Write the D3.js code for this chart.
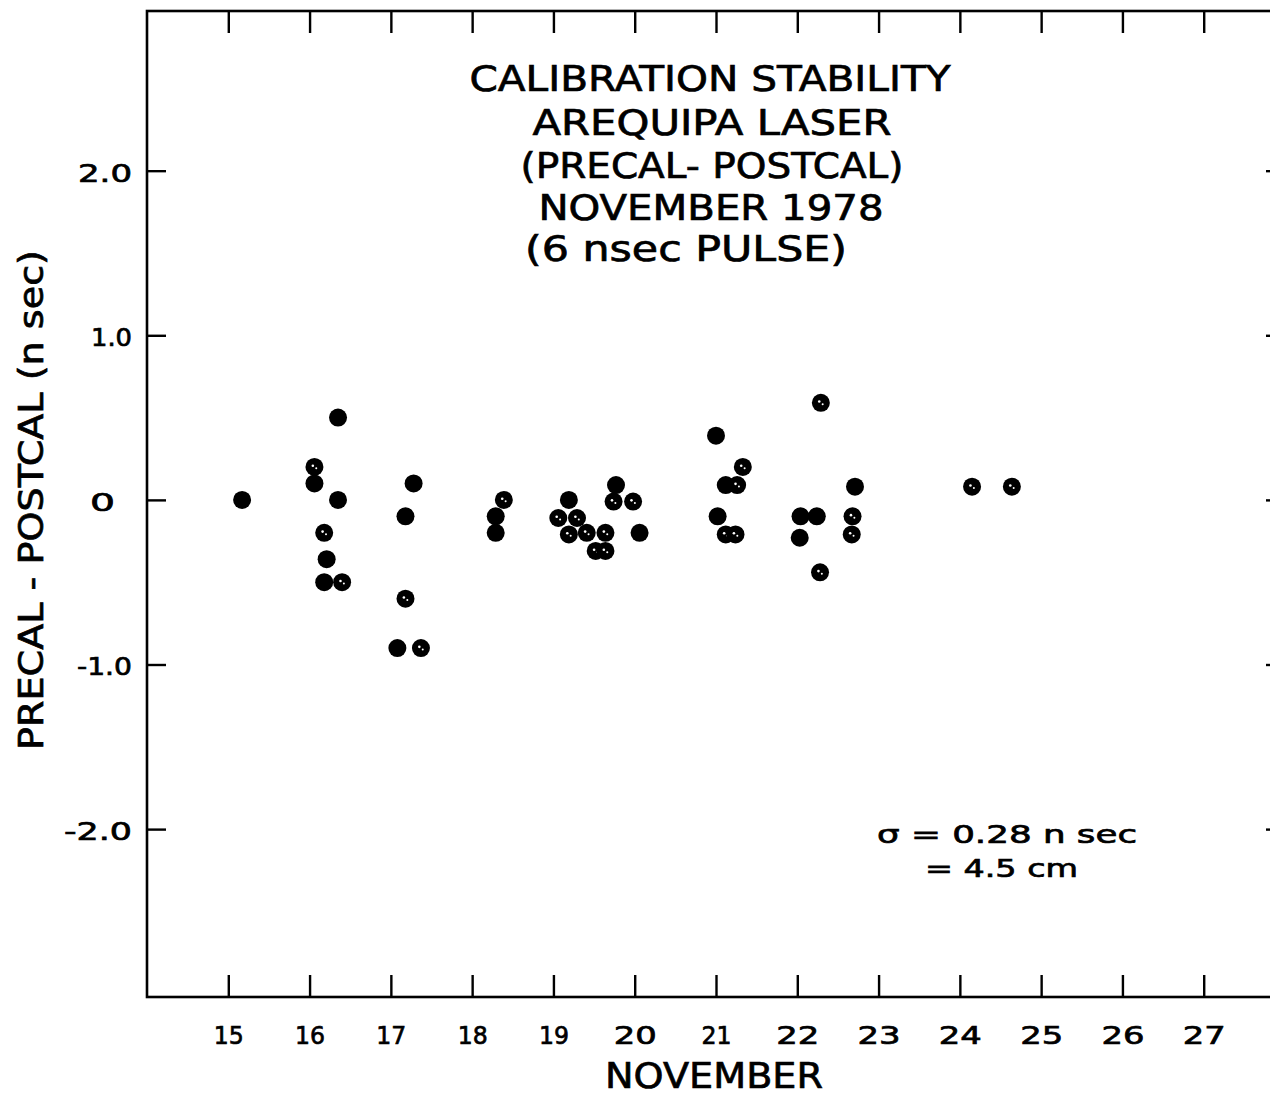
<!DOCTYPE html>
<html>
<head>
<meta charset="utf-8">
<script src="https://cdn.jsdelivr.net/npm/d3@7"></script>
<style>
  html, body { margin: 0; padding: 0; background: #fff; }
  svg { display: block; }
  text { font-family: "DejaVu Sans", "Liberation Sans", sans-serif; fill: #000; stroke: #000; stroke-width: 0.7px; }
</style>
</head>
<body>
<svg id="chart" width="1270" height="1096"></svg>
<script>
// Calibration runs, November 1978: day of month and PRECAL - POSTCAL offset (nsec)
const solidDays    = [15.17, 16.35, 16.06, 16.35, 16.21, 16.18, 17.28, 17.18, 17.08, 18.29, 18.29, 19.19, 19.77, 20.06, 21.00, 21.12, 21.02, 22.04, 22.24, 22.03, 22.71];
const solidOffsets = [0.00,  0.50,  0.10,  0.00, -0.36, -0.50,  0.10, -0.10, -0.90, -0.10, -0.20,  0.00,  0.09, -0.20,  0.39,  0.09, -0.10, -0.10, -0.10, -0.23,  0.08];

const openDays    = [16.06, 16.18, 16.40, 17.18, 17.37, 18.39, 19.06, 19.29, 19.19, 19.41, 19.64, 19.52, 19.64, 19.74, 19.98, 21.33, 21.26, 21.12, 21.24, 22.29, 22.68, 22.67, 22.28, 24.15, 24.64];
const openOffsets = [0.20, -0.20, -0.50, -0.60, -0.90,  0.00, -0.11, -0.11, -0.21, -0.20, -0.20, -0.31, -0.31, -0.01, -0.01,  0.20,  0.09, -0.21, -0.21,  0.59, -0.10, -0.21, -0.44,  0.08,  0.08];

const dayTicks    = [15, 16, 17, 18, 19, 20, 21, 22, 23, 24, 25, 26, 27];
const offsetTicks = [2, 1, 0, -1, -2];
const offsetLabels = ["2.0", "1.0", "0", "-1.0", "-2.0"];

const titleLines = ["CALIBRATION STABILITY", "AREQUIPA LASER", "(PRECAL- POSTCAL)", "NOVEMBER 1978", "(6 nsec  PULSE)"];
const sigmaLines = ["\u03c3 = 0.28  n sec", "= 4.5  cm"];

const svg = d3.select("#chart");

const plotLeft = 147, plotRight = 1285, plotTop = 11, plotBottom = 997;
const x = d3.scaleLinear().domain([14, 28]).range([plotLeft, plotRight]);
const y = d3.scaleLinear().domain([-3.02, 2.97]).range([plotBottom, plotTop]);

// frame
svg.append("rect")
  .attr("x", plotLeft).attr("y", plotTop)
  .attr("width", plotRight - plotLeft).attr("height", plotBottom - plotTop)
  .attr("fill", "none").attr("stroke", "#000").attr("stroke-width", 2.6);

function styleAxis(g) {
  g.select(".domain").remove();
  g.selectAll(".tick line").attr("stroke", "#000").attr("stroke-width", 2.4);
  g.selectAll(".tick text")
    .attr("font-family", "DejaVu Sans, sans-serif")
    .attr("fill", "#000");
}

// lettering-guide digits are wide; a "1" is a bare stroke
function labelWidth(s) {
  let w = 0;
  for (const c of s) w += c === "1" ? 7 : c === "." ? 9 : c === "-" ? 14 : 20;
  return w;
}

// bottom axis with labelled days
const gx = svg.append("g").attr("transform", `translate(0,${plotBottom})`)
  .call(d3.axisBottom(x).tickValues(dayTicks).tickSize(-22).tickPadding(29).tickFormat(d3.format("d")));
styleAxis(gx);
gx.selectAll(".tick text").attr("font-size", 25)
  .attr("textLength", d => labelWidth(String(d)) + 3)
  .attr("lengthAdjust", "spacingAndGlyphs");

// top axis, ticks only
const gxt = svg.append("g").attr("transform", `translate(0,${plotTop})`)
  .call(d3.axisTop(x).tickValues(dayTicks).tickSize(-22).tickFormat(""));
styleAxis(gxt);

// left axis
const gy = svg.append("g").attr("transform", `translate(${plotLeft},0)`)
  .call(d3.axisLeft(y).tickValues(offsetTicks).tickSize(-19).tickPadding(15)
    .tickFormat((d, i) => offsetLabels[i]));
styleAxis(gy);
gy.selectAll(".tick text").attr("font-size", 25).attr("dy", "0.42em")
  .attr("textLength", (d, i) => labelWidth(offsetLabels[i]) + 5)
  .attr("lengthAdjust", "spacingAndGlyphs");
gy.selectAll(".tick text").filter(d => d === 0).attr("dx", -17);

// right axis, ticks only
const gyr = svg.append("g").attr("transform", `translate(${plotRight},0)`)
  .call(d3.axisRight(y).tickValues(offsetTicks).tickSize(-19).tickFormat(""));
styleAxis(gyr);

// data points
const solid = solidDays.map((d, i) => ({ day: d, off: solidOffsets[i] }));
const open  = openDays.map((d, i) => ({ day: d, off: openOffsets[i] }));
const r = 9;

svg.append("g").selectAll("circle").data(solid).join("circle")
  .attr("cx", d => x(d.day)).attr("cy", d => y(d.off)).attr("r", r).attr("fill", "#000");

const og = svg.append("g").selectAll("g").data(open).join("g")
  .attr("transform", d => `translate(${x(d.day)},${y(d.off)})`);
og.append("circle").attr("r", r).attr("fill", "#000");
og.append("circle").attr("cx", -1.6).attr("cy", -1.2).attr("r", 1.3).attr("fill", "#fff");
og.append("circle").attr("cx", 1.8).attr("cy", 1.4).attr("r", 1.0).attr("fill", "#fff");

// title block
const titleBase = [91, 135, 178, 220, 261];
const titleCenter = [710, 712, 712, 711, 686];
const titleWidth = [481, 359, 383, 345, 322];
svg.append("g").selectAll("text").data(titleLines).join("text")
  .attr("x", (d, i) => titleCenter[i]).attr("y", (d, i) => titleBase[i])
  .attr("text-anchor", "middle").attr("font-size", 35)
  .attr("textLength", (d, i) => titleWidth[i]).attr("lengthAdjust", "spacingAndGlyphs")
  .text(d => d);

// standard deviation note
svg.append("text").attr("x", 877).attr("y", 843).attr("font-size", 25)
  .attr("textLength", 260).attr("lengthAdjust", "spacingAndGlyphs").text(sigmaLines[0]);
svg.append("text").attr("x", 925).attr("y", 877).attr("font-size", 25)
  .attr("textLength", 153).attr("lengthAdjust", "spacingAndGlyphs").text(sigmaLines[1]);

// axis titles
svg.append("text").attr("x", 714).attr("y", 1088).attr("text-anchor", "middle")
  .attr("font-size", 35).attr("textLength", 218).attr("lengthAdjust", "spacingAndGlyphs")
  .text("NOVEMBER");
svg.append("text").attr("transform", "translate(43,500) rotate(-90)")
  .attr("text-anchor", "middle").attr("font-size", 33)
  .attr("textLength", 500).attr("lengthAdjust", "spacingAndGlyphs")
  .text("PRECAL - POSTCAL (n sec)");
</script>
</body>
</html>
